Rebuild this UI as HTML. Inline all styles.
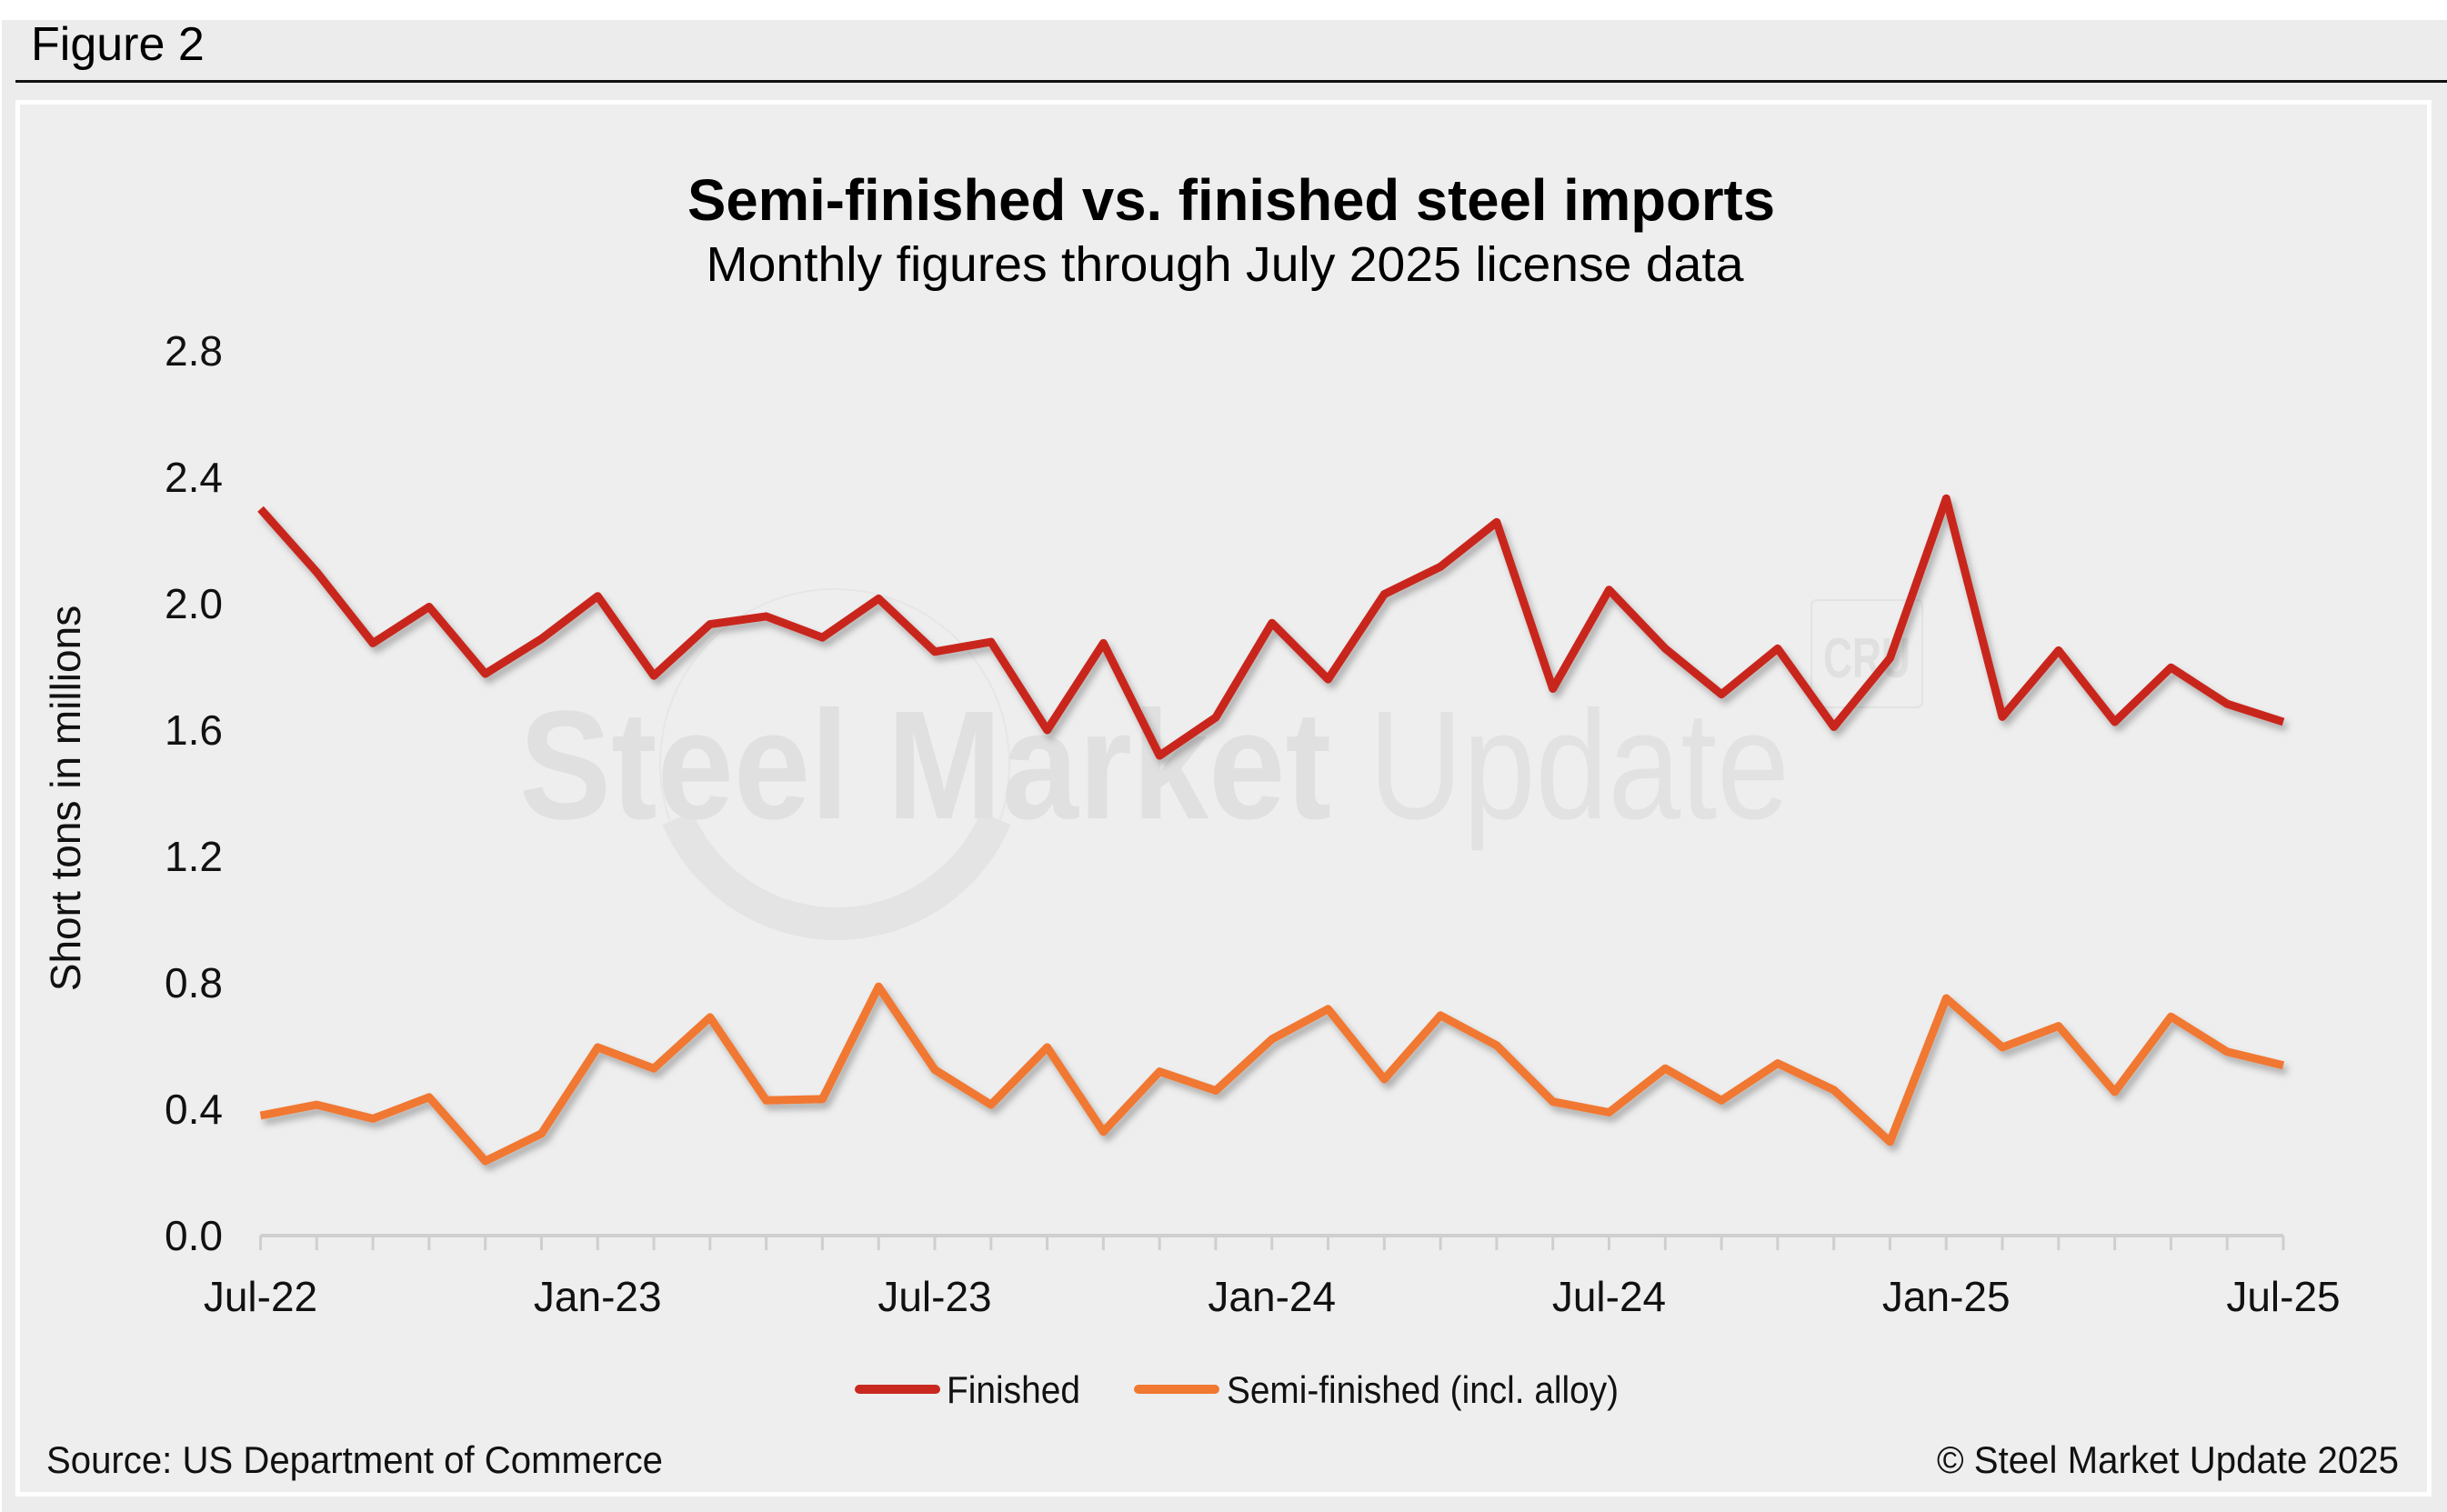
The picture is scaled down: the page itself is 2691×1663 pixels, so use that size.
<!DOCTYPE html>
<html><head><meta charset="utf-8"><style>
html,body{margin:0;padding:0;background:#fff;}
svg{display:block;font-family:"Liberation Sans",Arial,sans-serif;}
</style></head><body>
<svg id="chart" width="2691" height="1663" viewBox="0 0 2691 1663" xmlns="http://www.w3.org/2000/svg">
<defs>
<filter id="sh" x="-5%" y="-20%" width="110%" height="140%"><feDropShadow dx="4" dy="6" stdDeviation="4" flood-color="#000" flood-opacity="0.28"/></filter>
</defs>
<rect x="0" y="0" width="2691" height="1663" fill="#ffffff"/>
<rect x="2" y="22" width="2689" height="1641" fill="#ececec"/>
<text x="34" y="66" font-size="52" fill="#000">Figure 2</text>
<rect x="17" y="88" width="2674" height="3" fill="#111"/>
<rect x="17" y="110" width="2657" height="1536" fill="#ffffff"/>
<rect x="22" y="115" width="2647" height="1526" fill="#eeeeee"/>
<g>
<circle cx="918" cy="840" r="192" fill="none" stroke="#e6e6e6" stroke-width="2"/>
<path d="M 745 900 A 190 190 0 0 0 1095 900" fill="none" stroke="#e4e4e4" stroke-width="36"/>
<text x="571" y="900" font-size="170" font-weight="bold" fill="#e0e0e0" textLength="893" lengthAdjust="spacingAndGlyphs">Steel Market</text>
<text x="1505" y="900" font-size="170" fill="#e2e2e2" textLength="463" lengthAdjust="spacingAndGlyphs">Update</text>
<rect x="1992" y="660" width="122" height="118" rx="6" fill="none" stroke="#e2e2e2" stroke-width="2"/>
<text x="2005" y="745" font-size="62" font-weight="bold" fill="#e0e0e0" textLength="96" lengthAdjust="spacingAndGlyphs">CRU</text>
</g>
<text x="1354" y="242" font-size="64" font-weight="bold" text-anchor="middle" textLength="1196" lengthAdjust="spacingAndGlyphs" fill="#000">Semi-finished vs. finished steel imports</text>
<text x="1347" y="309" font-size="54" text-anchor="middle" textLength="1141" lengthAdjust="spacingAndGlyphs" fill="#000">Monthly figures through July 2025 license data</text>
<text transform="translate(88,878) rotate(-90)" font-size="46" text-anchor="middle" fill="#111">Short tons in millions</text>
<g id="yticks"></g>
<g id="xaxis"></g>
<g id="series"></g>
<g>
<g>
<line x1="945" y1="1528" x2="1029" y2="1528" stroke="#c8281e" stroke-width="10" stroke-linecap="round"/>
<text x="1041" y="1543" font-size="42" fill="#111" textLength="147" lengthAdjust="spacingAndGlyphs">Finished</text>
</g>
<g>
<line x1="1252" y1="1528" x2="1336" y2="1528" stroke="#f07830" stroke-width="10" stroke-linecap="round"/>
<text x="1349" y="1543" font-size="42" fill="#111" textLength="431" lengthAdjust="spacingAndGlyphs">Semi-finished (incl. alloy)</text>
</g>
</g>
<text x="51" y="1620" font-size="42" fill="#111" textLength="678" lengthAdjust="spacingAndGlyphs">Source: US Department of Commerce</text>
<text x="2130" y="1620" font-size="42" fill="#111" textLength="508" lengthAdjust="spacingAndGlyphs">© Steel Market Update 2025</text>
</svg>
<script>
const months = ["Jul-22","Aug-22","Sep-22","Oct-22","Nov-22","Dec-22","Jan-23","Feb-23","Mar-23","Apr-23","May-23","Jun-23","Jul-23","Aug-23","Sep-23","Oct-23","Nov-23","Dec-23","Jan-24","Feb-24","Mar-24","Apr-24","May-24","Jun-24","Jul-24","Aug-24","Sep-24","Oct-24","Nov-24","Dec-24","Jan-25","Feb-25","Mar-25","Apr-25","May-25","Jun-25","Jul-25"];
const finished = [2.30,2.10,1.875,1.99,1.778,1.889,2.024,1.772,1.935,1.96,1.893,2.016,1.848,1.879,1.60,1.875,1.519,1.64,1.939,1.761,2.03,2.117,2.258,1.731,2.044,1.858,1.713,1.858,1.61,1.828,2.333,1.642,1.852,1.626,1.798,1.683,1.626];
const semiFinished = [0.38,0.414,0.37,0.438,0.236,0.323,0.596,0.529,0.691,0.428,0.432,0.788,0.525,0.414,0.596,0.329,0.519,0.459,0.622,0.717,0.495,0.697,0.602,0.424,0.39,0.529,0.428,0.545,0.461,0.297,0.751,0.596,0.663,0.455,0.693,0.582,0.539];
const yTicks = [0,0.4,0.8,1.2,1.6,2.0,2.4,2.8];
const xTickLabels = ["Jul-22","Jan-23","Jul-23","Jan-24","Jul-24","Jan-25","Jul-25"];

const NS="http://www.w3.org/2000/svg";
const X0=286.5, X1=2511, Y0=1359, Y1=386;
const yMax=2.8;
function xScale(i){return X0+(X1-X0)*i/(months.length-1);}
function yScale(v){return Y0-(Y0-Y1)*v/yMax;}
function mk(tag,attrs,parent){const e=document.createElementNS(NS,tag);for(const k in attrs)e.setAttribute(k,attrs[k]);parent.appendChild(e);return e;}

const yg=document.getElementById('yticks');


yTicks.forEach(v=>{
  const t=mk('text',{x:245,y:yScale(v)+16,'font-size':46,'text-anchor':'end',fill:'#111'},yg);
  t.textContent=v.toFixed(1);
  
  
});

const xg=document.getElementById('xaxis');


const axis=mk('line',{x1:X0,y1:Y0,x2:X1,y2:Y0,stroke:'#cfcfcf','stroke-width':4},xg);


months.forEach((m,i)=>{
  const tk=mk('line',{x1:xScale(i),y1:Y0,x2:xScale(i),y2:Y0+16,stroke:'#cfcfcf','stroke-width':3},xg);
  
  
  if(xTickLabels.includes(m)){
    const t=mk('text',{x:xScale(i),y:1442,'font-size':46,'text-anchor':'middle',fill:'#111'},xg);
    t.textContent=m;
    
    
  }
});

const sg=document.getElementById('series');
function drawLine(vals,color,name){
  const d=vals.map((v,i)=>(i?'L':'M')+xScale(i).toFixed(1)+' '+yScale(v).toFixed(1)).join(' ');
  const p=mk('path',{d:d,fill:'none',stroke:color,'stroke-width':9,'stroke-linejoin':'round',filter:'url(#sh)'},sg);
  
  
}
drawLine(finished,'#c8281e','finished-line');
drawLine(semiFinished,'#f07830','semi-finished-line');
</script>
</body></html>
